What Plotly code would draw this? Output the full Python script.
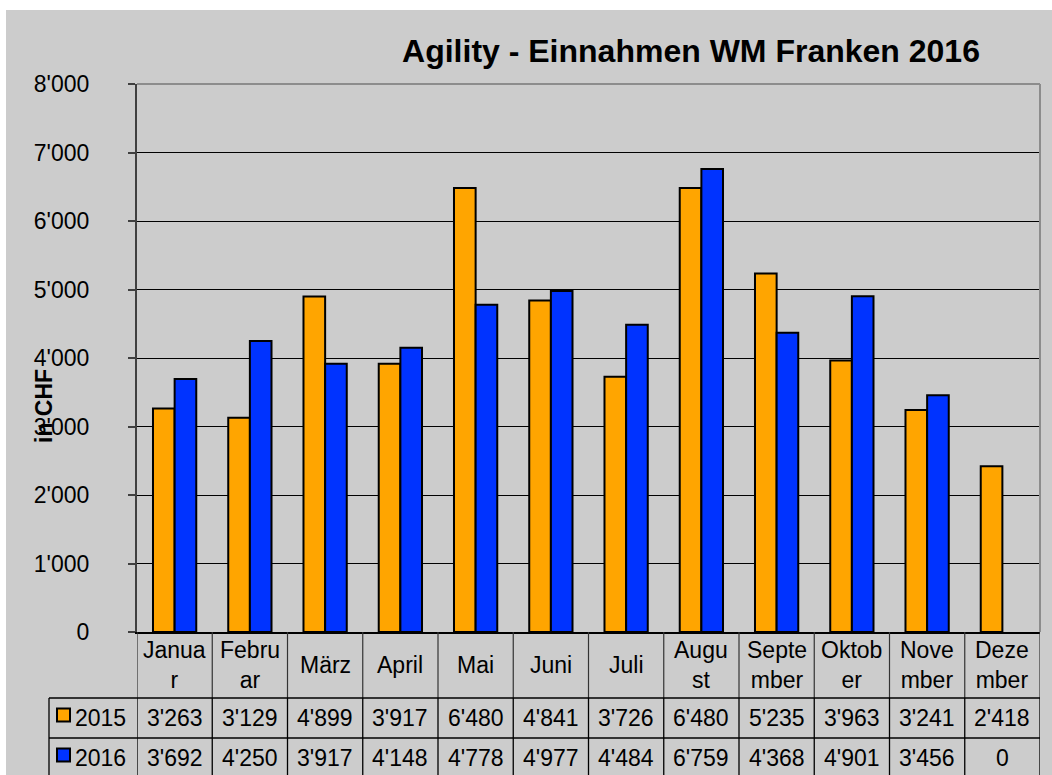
import plotly.graph_objects as go

months = ["Januar", "Februar", "März", "April", "Mai", "Juni", "Juli",
          "August", "September", "Oktober", "November", "Dezember"]
month_cells = ["Janua<br>r", "Febru<br>ar", "März", "April", "Mai", "Juni", "Juli",
               "Augu<br>st", "Septe<br>mber", "Oktob<br>er", "Nove<br>mber", "Deze<br>mber"]
series_names = ["2015", "2016"]
values_2015 = [3263, 3129, 4899, 3917, 6480, 4841, 3726, 6480, 5235, 3963, 3241, 2418]
values_2016 = [3692, 4250, 3917, 4148, 4778, 4977, 4484, 6759, 4368, 4901, 3456, 0]
colors = ["#FFA500", "#0033FF"]
y_ticks = [0, 1000, 2000, 3000, 4000, 5000, 6000, 7000, 8000]

FONT = "Liberation Sans, Arial, sans-serif"
W, H = 1052, 775
L, R, T, B = 137, 12, 84, 143
PW, PH = W - L - R, H - T - B

def px_x(px):
    return (px - L) / PW

def px_y(py):
    return (H - B - py) / PH

def fmt(v):
    return f"{v:,}".replace(",", "'")

fig = go.Figure()
xs = list(range(len(months)))
for name, vals, col in zip(series_names, [values_2015, values_2016], colors):
    fig.add_trace(go.Bar(x=xs, y=vals, name=name,
                         marker=dict(color=col, line=dict(color="black", width=[2 if v > 0 else 0 for v in vals])),
                         hovertext=months))

shapes = []
shapes.append(dict(type="rect", xref="paper", yref="paper", x0=px_x(0), x1=px_x(W), y0=px_y(10), y1=px_y(0),
                   fillcolor="white", line=dict(width=0), layer="below"))
shapes.append(dict(type="rect", xref="paper", yref="paper", x0=px_x(0), x1=px_x(6), y0=px_y(H), y1=px_y(0),
                   fillcolor="white", line=dict(width=0), layer="below"))
shapes.append(dict(type="line", xref="paper", yref="paper", x0=0, x1=1, y0=1, y1=1,
                   line=dict(color="#8C8C8C", width=2)))
shapes.append(dict(type="line", xref="paper", yref="paper", x0=1, x1=1, y0=0, y1=1,
                   line=dict(color="#8C8C8C", width=2)))

row1, row2, row3 = 698, 738, 778
for i in range(len(months) + 1):
    xv = i - 0.5
    shapes.append(dict(type="line", xref="x", yref="paper", x0=xv, x1=xv, y0=px_y(632), y1=px_y(row1),
                       line=dict(color="#333333", width=1.2)))
    shapes.append(dict(type="line", xref="x", yref="paper", x0=xv, x1=xv, y0=px_y(row1), y1=px_y(row3),
                       line=dict(color="black", width=1.3)))
shapes.append(dict(type="line", xref="paper", yref="paper", x0=px_x(49), x1=px_x(49), y0=px_y(row1), y1=px_y(row3),
                   line=dict(color="black", width=1.3)))
for ry in [row1, row2, row3]:
    shapes.append(dict(type="line", xref="paper", yref="paper", x0=px_x(49), x1=1, y0=px_y(ry), y1=px_y(ry),
                       line=dict(color="black", width=1.3)))
for col, ry in zip(colors, [row1, row2]):
    cy = ry + 17
    shapes.append(dict(type="rect", xref="paper", yref="paper", x0=px_x(57), x1=px_x(70),
                       y0=px_y(cy + 6.5), y1=px_y(cy - 6.5), fillcolor=col, line=dict(color="black", width=2)))

ann = []
tf = dict(family=FONT, size=23, color="black")
for i, lab in enumerate(month_cells):
    ann.append(dict(x=i, y=px_y(665), xref="x", yref="paper", text=lab, showarrow=False,
                    font=tf, xanchor="center", yanchor="middle"))
    ann.append(dict(x=i, y=px_y(718), xref="x", yref="paper", text=fmt(values_2015[i]), showarrow=False,
                    font=tf, xanchor="center", yanchor="middle"))
    ann.append(dict(x=i, y=px_y(758), xref="x", yref="paper", text=fmt(values_2016[i]), showarrow=False,
                    font=tf, xanchor="center", yanchor="middle"))
for name, cy in zip(series_names, [718, 758]):
    ann.append(dict(x=px_x(73), y=px_y(cy), xref="paper", yref="paper", text=name, showarrow=False,
                    font=tf, xanchor="left", yanchor="middle"))
ann.append(dict(x=px_x(44), y=px_y(406), xref="paper", yref="paper", text="<b>in CHF</b>", showarrow=False,
                textangle=-90, font=dict(family=FONT, size=23, color="black"), xanchor="center", yanchor="middle"))

fig.update_layout(
    width=W, height=H,
    margin=dict(l=L, r=R, t=T, b=B, autoexpand=False),
    paper_bgcolor="#CCCCCC", plot_bgcolor="#CCCCCC",
    separators=".'",
    barmode="group", bargap=0.425, bargroupgap=0,
    showlegend=False,
    title=dict(text="<b>Agility - Einnahmen WM Franken 2016</b>", x=691 / W, xanchor="center",
               y=1 - 51 / H, yanchor="middle", font=dict(family=FONT, size=32, color="black")),
    xaxis=dict(range=[-0.5, 11.5], showticklabels=False, ticks="", showgrid=False, zeroline=False,
               showline=True, linecolor="black", linewidth=1.5, fixedrange=True),
    yaxis=dict(range=[0, 8000], tickvals=y_ticks, tickformat=",d", ticks="outside", ticklen=7,
               tickcolor="#404040", tickwidth=1.5, showgrid=True, gridcolor="black", gridwidth=1,
               zeroline=False, showline=True, linecolor="#404040", linewidth=2,
               tickfont=dict(family=FONT, size=23, color="black"), ticklabelstandoff=34, fixedrange=True),
    shapes=shapes, annotations=ann,
    font=dict(family=FONT),
)

fig.write_html("out.html", config={"displayModeBar": False},
               post_script="document.body.style.margin='0';document.body.style.overflow='hidden';")
